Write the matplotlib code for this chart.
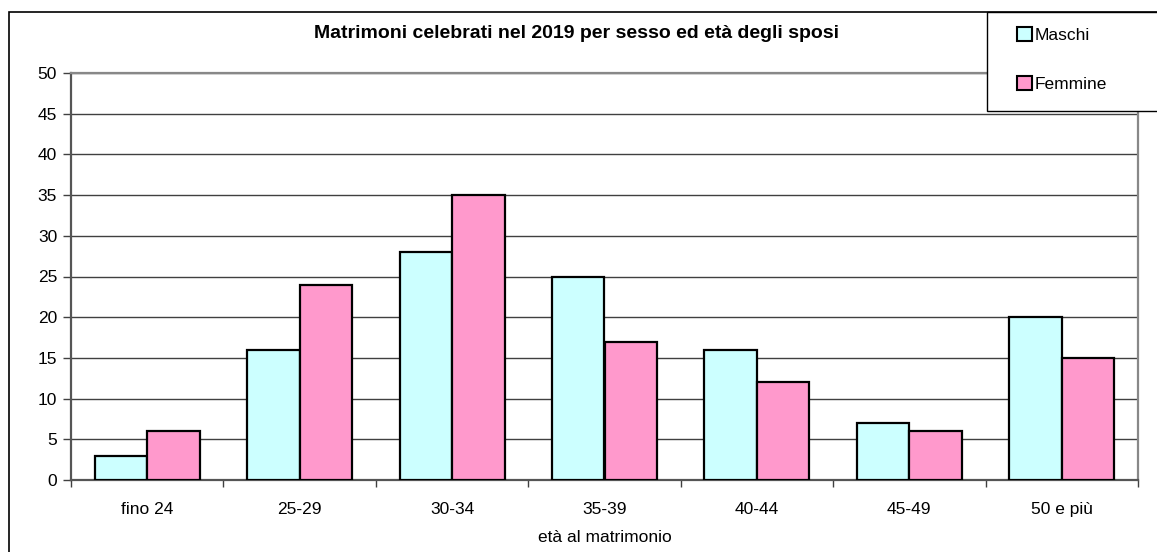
import matplotlib
matplotlib.use("Agg")
import matplotlib.pyplot as plt
import numpy as np
from matplotlib.patches import Rectangle, Patch

categories = ["fino 24", "25-29", "30-34", "35-39", "40-44", "45-49", "50 e più"]
maschi = [3, 16, 28, 25, 16, 7, 20]
femmine = [6, 24, 35, 17, 12, 6, 15]

plt.rcParams['font.family'] = ['Liberation Sans', 'DejaVu Sans']

W, H = 1157, 552
fig = plt.figure(figsize=(W / 100, H / 100), dpi=100)
L, R, T, B = 71, 1138, 73, 480
ax = fig.add_axes([L / W, 1 - B / H, (R - L) / W, (B - T) / H])

x = np.arange(len(categories))
bw = 0.344
c_m = "#ccffff"
c_f = "#ff99cc"
ax.bar(x - bw / 2, maschi, bw, color=c_m, edgecolor="black", linewidth=1.6, zorder=3)
ax.bar(x + bw / 2, femmine, bw, color=c_f, edgecolor="black", linewidth=1.6, zorder=3)

ax.set_xlim(-0.5, len(categories) - 0.5)
ax.set_ylim(0, 50)
ax.set_yticks(range(0, 51, 5))
ax.yaxis.grid(True, color="#404040", linewidth=1, zorder=0)
ax.set_axisbelow(True)

ax.set_xticks(np.arange(-0.5, len(categories), 1.0))
ax.set_xticklabels([])
ax.set_xticks(x, minor=True)
ax.set_xticklabels(categories, minor=True)
ax.tick_params(axis="x", which="minor", length=0, pad=16, labelsize=12.5)
ax.tick_params(axis="x", which="major", length=5, width=1, direction="out", color="#404040")
ax.tick_params(axis="y", length=6, width=1, direction="out", labelsize=12.5, pad=4, color="#404040")

for s in ["top", "right"]:
    ax.spines[s].set_color("#888888")
    ax.spines[s].set_linewidth(1.6)
for s in ["left", "bottom"]:
    ax.spines[s].set_color("#555555")
    ax.spines[s].set_linewidth(1.6)

ax.set_xlabel("età al matrimonio", fontsize=12.5, labelpad=9)

fig.text(577 / W, 1 - 33 / H, "Matrimoni celebrati nel 2019 per sesso ed età degli sposi",
         ha="center", va="center", fontsize=14, fontweight="bold")

# outer border
fig.patches.append(Rectangle((9 / W, -0.01), 1.0, 1 - 12 / H + 0.01, transform=fig.transFigure,
                             fill=False, edgecolor="black", linewidth=1.2))

# legend frame
fig.patches.append(Rectangle((987 / W, 1 - 111 / H), 1.0, 99 / H, transform=fig.transFigure,
                             facecolor="white", edgecolor="black", linewidth=1.0, zorder=5))

handles = [Patch(facecolor=c_m, edgecolor="black", linewidth=1.5, label="Maschi"),
           Patch(facecolor=c_f, edgecolor="black", linewidth=1.5, label="Femmine")]
leg = fig.legend(handles=handles, loc="upper left",
                 bbox_to_anchor=(1017 / W, 1 - 27 / H),
                 frameon=False, fontsize=12.5,
                 handlelength=0.85, handleheight=0.85, handletextpad=0.15,
                 labelspacing=1.9, borderpad=0, borderaxespad=0)
leg.set_zorder(6)

fig.savefig("out.png", dpi=100, facecolor="white")
